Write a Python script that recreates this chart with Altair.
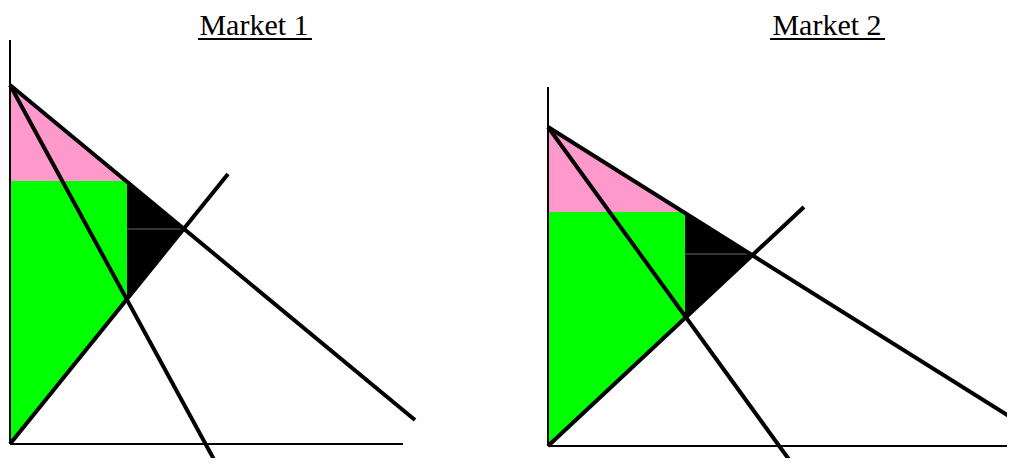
import altair as alt
import pandas as pd

# ---------------- Market 1 (quantity, price) readings ----------------
m1_demand_q = [0, 405]
m1_demand_p = [359, 24]
m1_mr_q = [0, 207]
m1_mr_p = [359, -21]
m1_mc_q = [0, 218]
m1_mc_p = [0, 270]
m1_monopoly = [117, 263, 147]      # Qm, Pm, MC at Qm
m1_competitive = [173, 215]        # Qc, Pc
m1_axis_len = [393, 404]           # quantity axis length, price axis length

# ---------------- Market 2 (quantity, price) readings ----------------
m2_demand_q = [0, 467]
m2_demand_p = [319, 26]
m2_mr_q = [0, 245]
m2_mr_p = [319, -19]
m2_mc_q = [0, 256]
m2_mc_p = [0, 239]
m2_monopoly = [137, 234, 129]
m2_competitive = [205, 192]
m2_axis_len = [462, 359]

titles = ["Market 1", "Market 2"]
region_names = ["consumer", "profit", "deadweight"]
region_colors = ["#FF99CC", "#00FF00", "#000000"]

H = 450


def panel(title, dq, dp, mrq, mrp, mcq, mcp, mono, comp, axis_len,
          xdom, ydom, width, title_x, ul_x):
    qm, pm, mcm = mono
    qc, pc = comp
    xs = alt.Scale(domain=xdom, nice=False, zero=False)
    ys = alt.Scale(domain=ydom, nice=False, zero=False)

    shade = pd.DataFrame({
        "region": [region_names[0]] * 2 + [region_names[1]] * 2 + [region_names[2]] * 2,
        "q": [0, qm, 0, qm, qm, qc],
        "top": [dp[0], pm, pm, pm, pm, pc],
        "bottom": [pm, pm, mcp[0], mcm, mcm, pc],
    })
    areas = alt.Chart(shade).mark_area(clip=True, opacity=1).encode(
        x=alt.X("q:Q", scale=xs, axis=None),
        y=alt.Y("top:Q", scale=ys, axis=None),
        y2="bottom:Q",
        color=alt.Color("region:N", scale=alt.Scale(domain=region_names, range=region_colors), legend=None),
        detail="region:N",
    )

    comp_line = alt.Chart(pd.DataFrame({"q": [qm], "q2": [qc], "p": [pc]})).mark_rule(
        clip=True, color="#6a6a6a", strokeWidth=1
    ).encode(
        x=alt.X("q:Q", scale=xs, axis=None), x2="q2:Q",
        y=alt.Y("p:Q", scale=ys, axis=None),
    )

    axes_df = pd.DataFrame({"x": [0, 0], "x2": [0, axis_len[0]],
                            "y": [0, 0], "y2": [axis_len[1], 0]})
    axes = alt.Chart(axes_df).mark_rule(clip=True, color="black", strokeWidth=2).encode(
        x=alt.X("x:Q", scale=xs, axis=None), x2="x2:Q",
        y=alt.Y("y:Q", scale=ys, axis=None), y2="y2:Q",
    )

    curves = pd.DataFrame({
        "curve": ["D", "D", "MR", "MR", "MC", "MC"],
        "q": dq + mrq + mcq,
        "p": dp + mrp + mcp,
    })
    lines = alt.Chart(curves).mark_line(clip=True, color="black", strokeWidth=4).encode(
        x=alt.X("q:Q", scale=xs, axis=None),
        y=alt.Y("p:Q", scale=ys, axis=None),
        detail="curve:N",
    )

    ttl = alt.Chart(alt.Data(values=[{"t": title}])).mark_text(
        font="Liberation Serif", fontSize=30, color="black",
        align="center", baseline="alphabetic"
    ).encode(x=alt.value(title_x), y=alt.value(27), text="t:N")

    underline = alt.Chart(alt.Data(values=[{"t": title}])).mark_rule(
        color="black", strokeWidth=2
    ).encode(x=alt.value(ul_x[0]), x2=alt.value(ul_x[1]), y=alt.value(31))

    return alt.layer(areas, comp_line, axes, lines, ttl, underline).properties(
        width=width, height=H
    )


p1 = panel(titles[0], m1_demand_q, m1_demand_p, m1_mr_q, m1_mr_p, m1_mc_q, m1_mc_p,
           m1_monopoly, m1_competitive, m1_axis_len,
           [-2, 518], [-14, 436], 520, 246, [190, 304])
p2 = panel(titles[1], m2_demand_q, m2_demand_p, m2_mr_q, m2_mr_p, m2_mc_q, m2_mc_p,
           m2_monopoly, m2_competitive, m2_axis_len,
           [-20, 459], [-12, 438], 479, 299, [242, 357])

chart = alt.hconcat(p1, p2, spacing=0, bounds="flush").properties(padding=0).configure_view(
    strokeWidth=0
)

chart.save("out.html", embed_options={"renderer": "svg", "actions": False})
